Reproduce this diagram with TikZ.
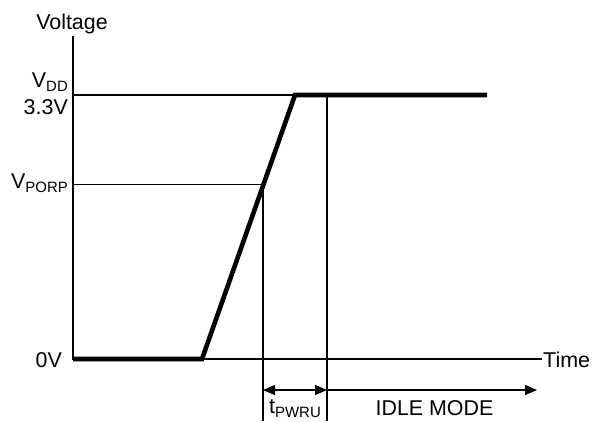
\documentclass[tikz,border=0pt]{standalone}
\usepackage{fontspec}
\setmainfont{Liberation Sans}
\usetikzlibrary{arrows.meta}
\newcommand{\lblsub}[1]{\raisebox{-0.22em}{\fontsize{15}{16}\selectfont #1}}
\begin{document}
\begin{tikzpicture}[x=1bp,y=-1bp,
  thinline/.style={line width=1.8bp},
  thickline/.style={line width=4.6bp},
  lbl/.style={font=\fontsize{21.5}{25}\selectfont, inner sep=0pt},
  dimarrow/.style={line width=1.3bp}]
\useasboundingbox (0,0) rectangle (595,421);
% key points
\coordinate (ytop) at (73,36);
\coordinate (origin) at (73,359);
\coordinate (xend) at (542,359);
\coordinate (vddL) at (73,95);
\coordinate (vporpL) at (73,184.5);
\coordinate (rampS) at (202,359);
\coordinate (rampE) at (295,95);
\coordinate (vddEnd) at (487,95);
\coordinate (porpX) at (263,184.5);
\coordinate (porpB) at (263,421);
\coordinate (tpX) at (327,95);
\coordinate (tpB) at (327,421);
\coordinate (a1) at (263,390);
\coordinate (a2) at (327,390);
\coordinate (a3) at (537,390);
% axes
\draw[thinline] (ytop) -- (origin) -- (xend);
% reference lines
\draw[thinline] (vddL) -- (rampE);
\draw[thinline] (vporpL) -- (porpX) -- (porpB);
\draw[thinline] (tpX) -- (tpB);
% waveform
\draw[thickline] (origin) -- (rampS) -- (rampE) -- (vddEnd);
% dimension arrows
\draw[dimarrow,{Triangle[length=12bp,width=10bp]}-{Triangle[length=12bp,width=10bp]}] (a1) -- (a2);
\draw[dimarrow,-{Triangle[length=12bp,width=10bp]}] (a2) -- (a3);
% labels
\node[lbl,anchor=base] (voltage) at (72,29) {Voltage};
\node[lbl,anchor=base east] (vdd) at (68,87) {V\lblsub{DD}};
\node[lbl,anchor=base east] (v33) at (68,114) {3.3V};
\node[lbl,anchor=base east] (vporp) at (68,188) {V\lblsub{PORP}};
\node[lbl,anchor=base east] (zerov) at (62,367) {0V};
\node[lbl,anchor=base west] (time) at (543,367) {Time};
\node[lbl,anchor=base] (tpwru) at (295,413) {t\lblsub{PWRU}};
\node[lbl,anchor=base] (idle) at (434.5,415) {IDLE MODE};
\end{tikzpicture}
\end{document}
